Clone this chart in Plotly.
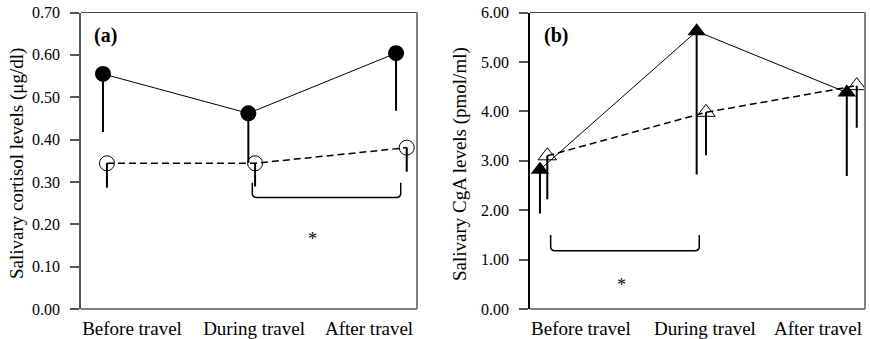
import plotly.graph_objects as go

# ---------------- data ----------------
categories = ["Before travel", "During travel", "After travel"]

# Panel (a): salivary cortisol (ug/dl)
cort_filled_mean = [0.555, 0.462, 0.604]
cort_filled_low = [0.418, 0.345, 0.468]
cort_open_mean = [0.344, 0.344, 0.381]
cort_open_low = [0.286, 0.289, 0.324]

# Panel (b): salivary CgA (pmol/ml)
cga_filled_mean = [2.82, 5.62, 4.38]
cga_filled_low = [1.935, 2.72, 2.69]
cga_open_mean = [3.10, 3.98, 4.52]
cga_open_low = [2.22, 3.11, 3.67]

yticks_a = [0.0, 0.1, 0.2, 0.3, 0.4, 0.5, 0.6, 0.7]
yticks_b = [0, 1, 2, 3, 4, 5, 6]

# ---------------- layout constants ----------------
FONT = "Liberation Serif"
W, H = 870, 339


def px(x):
    return x / W


def py(y):
    return 1 - y / H


idx = [0, 1, 2]
off_a_filled = [0.0, -0.008, 0.0]
off_a_open = [0.027, 0.038, 0.073]
off_b_filled = [0.0, 0.024, 0.005]
off_b_open = [0.048, 0.085, 0.07]
label_pos_a = [0.198, 1.031, 1.816]
label_pos_b = [0.268, 1.078, 1.817]


def shift(base, off):
    return [b + o for b, o in zip(base, off)]


def minus(mean, low):
    return [m - l for m, l in zip(mean, low)]


fig = go.Figure()

err_style = dict(type="data", symmetric=False, width=0, thickness=2, color="black")

# ----- panel (a) -----
fig.add_trace(go.Scatter(
    x=shift(idx, off_a_filled), y=cort_filled_mean, xaxis="x", yaxis="y",
    mode="lines+markers",
    line=dict(color="black", width=1),
    marker=dict(symbol="circle", size=16, color="black"),
    error_y=dict(array=[0, 0, 0], arrayminus=minus(cort_filled_mean, cort_filled_low), **err_style),
    showlegend=False))
fig.add_trace(go.Scatter(
    x=shift(idx, off_a_open), y=cort_open_mean, xaxis="x", yaxis="y",
    mode="lines+markers",
    line=dict(color="black", width=1.5, dash="7px,4px"),
    marker=dict(symbol="circle-open", size=15, color="black", line=dict(width=1)),
    error_y=dict(array=[0, 0, 0], arrayminus=minus(cort_open_mean, cort_open_low), **err_style),
    showlegend=False))

# ----- panel (b) -----
fig.add_trace(go.Scatter(
    x=shift(idx, off_b_filled), y=cga_filled_mean, xaxis="x2", yaxis="y2",
    mode="lines+markers",
    line=dict(color="black", width=1),
    marker=dict(symbol="triangle-up", size=16, color="black"),
    error_y=dict(array=[0, 0, 0], arrayminus=minus(cga_filled_mean, cga_filled_low), **err_style),
    showlegend=False))
fig.add_trace(go.Scatter(
    x=shift(idx, off_b_open), y=cga_open_mean, xaxis="x2", yaxis="y2",
    mode="lines+markers",
    line=dict(color="black", width=1.5, dash="7px,4px"),
    marker=dict(symbol="triangle-up-open", size=16, color="black", line=dict(width=1)),
    error_y=dict(array=[0, 0, 0], arrayminus=minus(cga_open_mean, cga_open_low), **err_style),
    showlegend=False))

ydom = [py(309), py(12.5)]

xcommon = dict(showgrid=False, zeroline=False, showline=False, ticks="",
               tickfont=dict(family=FONT, size=19, color="black"),
               ticklabelstandoff=6, automargin=False, fixedrange=True)
ycommon = dict(showgrid=False, zeroline=False, showline=True, ticks="outside",
               ticklen=9, tickwidth=1.5, tickformat=".2f",
               tickfont=dict(family=FONT, size=16, color="black"),
               ticklabelstandoff=7, automargin=False, fixedrange=True)

fig.update_layout(
    width=W, height=H, autosize=False,
    margin=dict(l=0, r=0, t=0, b=0),
    paper_bgcolor="white", plot_bgcolor="white",
    xaxis=dict(domain=[px(81), px(417)], range=[-0.150, 2.143],
               tickvals=label_pos_a, ticktext=categories, anchor="y", **xcommon),
    yaxis=dict(domain=ydom, range=[0, 0.7], tickvals=yticks_a, anchor="x",
               linecolor="#555555", linewidth=1.5, tickcolor="#555555", **ycommon),
    xaxis2=dict(domain=[px(530), px(865)], range=[-0.065, 2.124],
                tickvals=label_pos_b, ticktext=categories, anchor="y2", **xcommon),
    yaxis2=dict(domain=ydom, range=[0, 6], tickvals=yticks_b, anchor="x2",
                linecolor="black", linewidth=1.5, tickcolor="#555555", **ycommon),
)

# frames (top, right, bottom)
shapes = []
for xr, yr in (("x domain", "y domain"), ("x2 domain", "y2 domain")):
    shapes.append(dict(type="line", xref=xr, yref=yr, x0=0, x1=1, y0=1, y1=1,
                       line=dict(color="#444444", width=1)))
    shapes.append(dict(type="line", xref=xr, yref=yr, x0=1, x1=1, y0=0, y1=1,
                       line=dict(color="#808080", width=2)))
    shapes.append(dict(type="line", xref=xr, yref=yr, x0=0, x1=1, y0=0, y1=0,
                       line=dict(color="#808080", width=2)))


def bracket(x1, x2, ytop, ybot, dx, dy):
    return (f"M {x1},{ytop} L {x1},{ybot + dy} Q {x1},{ybot} {x1 + dx},{ybot} "
            f"L {x2 - dx},{ybot} Q {x2},{ybot} {x2},{ybot + dy} L {x2},{ytop}")


shapes.append(dict(type="path", xref="x", yref="y",
                   path=bracket(1.019, 2.032, 0.298, 0.263, 0.03, 0.01),
                   line=dict(color="black", width=1.5)))
shapes.append(dict(type="path", xref="x2", yref="y2",
                   path=bracket(0.070, 1.041, 1.50, 1.18, 0.028, 0.085),
                   line=dict(color="black", width=1.5)))
fig.update_layout(shapes=shapes)

common_ann = dict(showarrow=False, xanchor="center", yanchor="middle")
annotations = [
    dict(text="<b>(a)</b>", xref="paper", yref="paper", x=px(105), y=py(35),
         font=dict(family=FONT, size=20, color="black"), **common_ann),
    dict(text="<b>(b)</b>", xref="paper", yref="paper", x=px(556), y=py(35),
         font=dict(family=FONT, size=20, color="black"), **common_ann),
    dict(text="Salivary cortisol levels (μg/dl)", xref="paper", yref="paper",
         x=px(17), y=py(164), textangle=-90,
         font=dict(family=FONT, size=19, color="black"), **common_ann),
    dict(text="Salivary CgA levels (pmol/ml)", xref="paper", yref="paper",
         x=px(460), y=py(164), textangle=-90,
         font=dict(family=FONT, size=19, color="black"), **common_ann),
    dict(text="*", xref="x", yref="y", x=1.433, y=0.165,
         font=dict(family=FONT, size=18, color="black"), **common_ann),
    dict(text="*", xref="x2", yref="y2", x=0.534, y=0.48,
         font=dict(family=FONT, size=18, color="black"), **common_ann),
]
fig.update_layout(annotations=annotations)

fig.write_html("out.html", config={"displayModeBar": False},
               post_script="document.body.style.margin='0';")
